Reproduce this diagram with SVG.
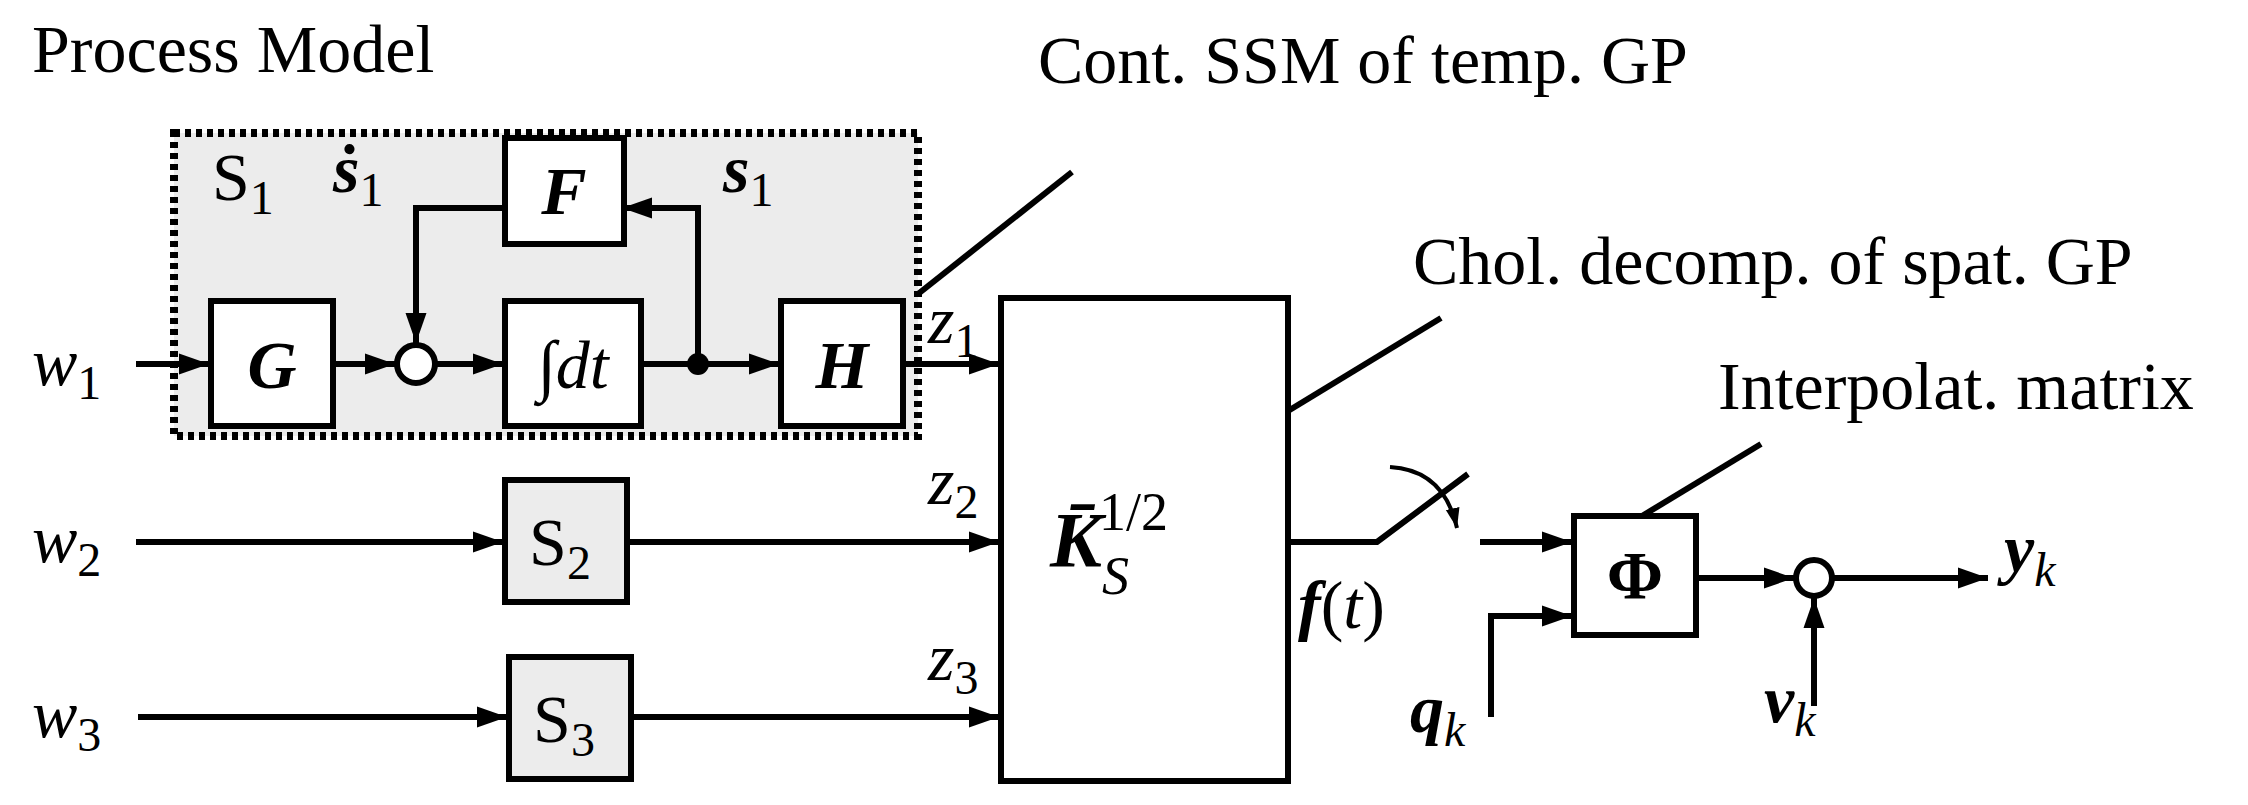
<svg xmlns="http://www.w3.org/2000/svg" width="2248" height="805" viewBox="0 0 2248 805">
<style>
text{font-family:"Liberation Serif","DejaVu Serif",serif;fill:#000;font-size:68px}
.b{fill:#fff;stroke:#000;stroke-width:6}
.g{fill:#ececec;stroke:#000;stroke-width:6}
.l{fill:none;stroke:#000;stroke-width:6}
.t{fill:none;stroke:#000;stroke-width:4}
.it{font-style:italic}
.bi{font-style:italic;font-weight:bold}
.sub{font-size:48px}
.n{font-style:normal;font-weight:normal}
</style>
<defs><marker id="a" viewBox="0 0 10 10" refX="10" refY="5" markerWidth="5" markerHeight="5" markerUnits="strokeWidth" orient="auto"><path d="M0,1.5 L10,5 L0,8.5 Z" fill="#000"/></marker></defs>
<text x="32" y="72">Process Model</text>
<g id="s1"><rect x="174" y="133" width="744" height="303" fill="#ececec" stroke="#000" stroke-width="8" stroke-dasharray="6,5"/>
<text x="212" y="200">S<tspan class="sub" dy="14">1</tspan></text>
<text x="333" y="192" class="bi">ṡ<tspan class="sub n" dy="14">1</tspan></text>
<text x="723" y="192" class="bi">s<tspan class="sub n" dy="14">1</tspan></text></g>
<g id="G"><rect class="b" x="211" y="301" width="122" height="125"/><text x="272" y="388" text-anchor="middle" class="bi">G</text></g>
<g id="F"><rect class="b" x="505" y="138" width="119" height="106"/><text x="564" y="214" text-anchor="middle" class="bi">F</text></g>
<g id="I"><rect class="b" x="505" y="301" width="136" height="125"/><text x="573" y="388" text-anchor="middle" class="it">∫dt</text></g>
<g id="H"><rect class="b" x="781" y="301" width="122" height="125"/><text x="842" y="388" text-anchor="middle" class="bi">H</text></g>
<g id="sum1"><circle cx="416" cy="364" r="19" fill="#fff" stroke="#000" stroke-width="6"/></g>
<g id="dot"><circle cx="698" cy="364" r="11" fill="#000"/></g>
<g id="S2"><rect class="g" x="505" y="480" width="122" height="122"/><text x="560" y="565" text-anchor="middle">S<tspan class="sub" dy="14">2</tspan></text></g>
<g id="S3"><rect class="g" x="509" y="657" width="122" height="122"/><text x="564" y="742" text-anchor="middle">S<tspan class="sub" dy="14">3</tspan></text></g>
<g id="K"><rect class="b" x="1001" y="298" width="287" height="483"/><text x="1050" y="566" class="bi" style="font-size:78px">K̄<tspan style="font-size:54px;font-weight:normal" dy="28">S</tspan><tspan class="n" style="font-size:54px" dy="-64" dx="-30">1/2</tspan></text></g>
<g id="Phi"><rect class="b" x="1574" y="516" width="122" height="119"/><text x="1635" y="598" text-anchor="middle" style="font-weight:bold">Φ</text></g>
<g id="sum2"><circle cx="1814" cy="578" r="18" fill="#fff" stroke="#000" stroke-width="6"/></g>
<text x="32" y="385" class="it">w<tspan class="sub n" dy="14">1</tspan></text>
<text x="32" y="562" class="it">w<tspan class="sub n" dy="14">2</tspan></text>
<text x="32" y="737" class="it">w<tspan class="sub n" dy="14">3</tspan></text>
<text x="928" y="343" class="it">z<tspan class="sub n" dy="14">1</tspan></text>
<text x="928" y="504" class="it">z<tspan class="sub n" dy="14">2</tspan></text>
<text x="928" y="680" class="it">z<tspan class="sub n" dy="14">3</tspan></text>
<text x="1038" y="83">Cont. SSM of temp. GP</text>
<text x="1413" y="284">Chol. decomp. of spat. GP</text>
<text x="1718" y="409">Interpolat. matrix</text>
<text x="1298" y="628" class="bi">f<tspan class="n">(</tspan><tspan style="font-weight:normal">t</tspan><tspan class="n">)</tspan></text>
<text x="1410" y="732" class="bi">q<tspan class="sub" dy="14" style="font-weight:normal">k</tspan></text>
<text x="1764" y="722" class="bi">v<tspan class="sub" dy="14" style="font-weight:normal">k</tspan></text>
<text x="2004" y="572" class="bi">y<tspan class="sub" dy="14" style="font-weight:normal">k</tspan></text>
<g id="connectors">
<path class="l" d="M136,364H209" marker-end="url(#a)"/>
<path class="l" d="M333,364H395" marker-end="url(#a)"/>
<path class="l" d="M435,364H503" marker-end="url(#a)"/>
<path class="l" d="M641,364H779" marker-end="url(#a)"/>
<path class="l" d="M698,364V208H622" marker-end="url(#a)"/>
<path class="l" d="M505,208H416V343" marker-end="url(#a)"/>
<path class="l" d="M903,364H999" marker-end="url(#a)"/>
<path class="l" d="M136,542H503" marker-end="url(#a)"/>
<path class="l" d="M627,542H999" marker-end="url(#a)"/>
<path class="l" d="M138,717H507" marker-end="url(#a)"/>
<path class="l" d="M631,717H999" marker-end="url(#a)"/>
<path class="l" d="M918,294L1072,172"/>
<path class="l" d="M1288,411L1441,318"/>
<path class="l" d="M1642,516L1761,444"/>
<path class="l" d="M1288,542H1377L1468,474"/>
<path class="t" d="M1390,467Q1444,470 1457,528" marker-end="url(#a)"/>
<path class="l" d="M1480,542H1572" marker-end="url(#a)"/>
<path class="l" d="M1491,717V616H1572" marker-end="url(#a)"/>
<path class="l" d="M1696,578H1794" marker-end="url(#a)"/>
<path class="l" d="M1833,578H1988" marker-end="url(#a)"/>
<path class="l" d="M1814,706V598" marker-end="url(#a)"/>
</g>
</svg>
